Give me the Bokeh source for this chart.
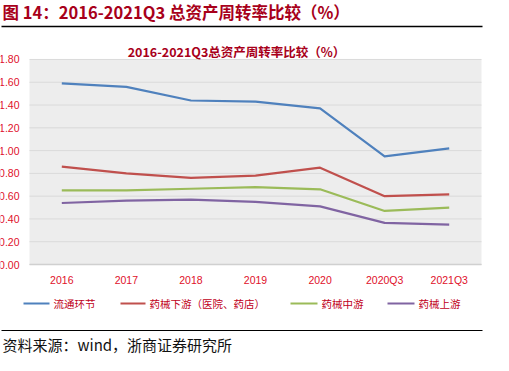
from bokeh.plotting import figure
from bokeh.models import Range1d, ColumnDataSource
from bokeh.core.properties import value
from bokeh.embed import file_html
from bokeh.resources import INLINE

# ---------------- data ----------------
categories = ["2016", "2017", "2018", "2019", "2020", "2020Q3", "2021Q3"]
series_names = ["流通环节", "药械下游（医院、药店）", "药械中游", "药械上游"]
circulation = [1.59, 1.56, 1.44, 1.43, 1.37, 0.95, 1.02]
downstream = [0.86, 0.80, 0.76, 0.78, 0.85, 0.60, 0.615]
midstream = [0.65, 0.65, 0.665, 0.68, 0.66, 0.47, 0.50]
upstream = [0.54, 0.56, 0.57, 0.55, 0.51, 0.365, 0.35]
y_ticks = [0.0, 0.2, 0.4, 0.6, 0.8, 1.0, 1.2, 1.4, 1.6, 1.8]
y_tick_labels = ["0.00", "0.20", "0.40", "0.60", "0.80", "1.00", "1.20", "1.40", "1.60", "1.80"]
header_text = "图 14：2016-2021Q3 总资产周转率比较（%）"
chart_title = "2016-2021Q3总资产周转率比较（%）"
source_text = "资料来源：wind，浙商证券研究所"

# ---------------- styling ----------------
colors = ["#4F81BD", "#C0504D", "#9BBB59", "#8064A2"]
dark_red = "#A8001A"
tick_red = "#E0102A"
CJK = "Noto Sans CJK SC"

W, H = 493, 355
PX_X = 64.57          # px per category step
X0_REF = 69.3         # page x of first category
PX_Y = 113.9          # px per 1.0 value
Y0_REF = 272.0        # page y of value 0


def dx(refx):
    return (refx - X0_REF) / PX_X


def dy(refy):
    return (Y0_REF - refy) / PX_Y


p = figure(width=W, height=H, output_backend="svg", toolbar_location=None,
           x_range=Range1d(dx(8), dx(8 + W)), y_range=Range1d(dy(8 + H), dy(8)),
           min_border=0, min_border_left=0, min_border_right=0,
           min_border_top=0, min_border_bottom=0)
p.axis.visible = False
p.grid.visible = False
p.outline_line_color = None
p.background_fill_color = "white"
p.border_fill_color = "white"

n = len(categories)
xs = list(range(n))

# plot area background (tone of the striped fill)
p.quad(left=[-0.5], right=[n - 0.5], bottom=[0], top=[y_ticks[-1]],
       fill_color="#EDEDED", line_color=None)

# gridlines
grid_src = ColumnDataSource(dict(x0=[-0.5] * len(y_ticks), x1=[n - 0.5] * len(y_ticks),
                                 y=y_ticks))
p.segment(x0="x0", x1="x1", y0="y", y1="y", source=grid_src,
          line_color="#DADADA", line_width=1)
p.segment(x0=[-0.5], x1=[n - 0.5], y0=[0], y1=[0], line_color="#D0D0D0", line_width=1.6)

# y tick labels
p.text(x=[dx(27)] * len(y_ticks), y=y_ticks, text=y_tick_labels,
       text_align="right", text_baseline="middle", text_color=tick_red,
       text_font=value("Liberation Sans"), text_font_size="10.5px")

# x tick labels
p.text(x=xs, y=[dy(287)] * n, text=categories,
       text_align="center", text_baseline="middle", text_color=tick_red,
       text_font=value("Liberation Sans"), text_font_size="10.5px")

# series lines
all_series = [circulation, downstream, midstream, upstream]
for vals, c in zip(all_series, colors):
    p.line(xs, vals, line_color=c, line_width=2.2, line_join="round")

# legend (drawn manually)
leg_y = dy(311)
leg_line_x = [(31, 57), (128, 153), (298, 325), (395, 422)]
leg_text_x = [61, 157, 329, 426]
for (a, b), tx, name, c in zip(leg_line_x, leg_text_x, series_names, colors):
    p.segment(x0=[dx(a)], x1=[dx(b)], y0=[leg_y], y1=[leg_y], line_color=c, line_width=2.2)
    p.text(x=[dx(tx)], y=[leg_y], text=[name], text_align="left", text_baseline="middle",
           text_color="#C00020", text_font=value(CJK), text_font_size="10.5px")

# header
p.text(x=[dx(10)], y=[dy(19)], text=[header_text], text_align="left", text_baseline="middle",
       text_color=dark_red, text_font=value(CJK), text_font_size="16.5px",
       text_font_style="bold")
p.segment(x0=[dx(9)], x1=[dx(490)], y0=[dy(34)], y1=[dy(34)], line_color="black", line_width=1.3)

# chart title
p.text(x=[dx(244)], y=[dy(59)], text=[chart_title], text_align="center", text_baseline="middle",
       text_color=dark_red, text_font=value(CJK), text_font_size="12.5px",
       text_font_style="bold")

# bottom rule & source
p.segment(x0=[dx(9)], x1=[dx(490)], y0=[dy(338)], y1=[dy(338)], line_color="black", line_width=1.2)
p.text(x=[dx(10)], y=[dy(352)], text=[source_text], text_align="left", text_baseline="middle",
       text_color="#111111", text_font=value(CJK), text_font_size="15px")

open("out.html", "w").write(file_html(p, INLINE))
